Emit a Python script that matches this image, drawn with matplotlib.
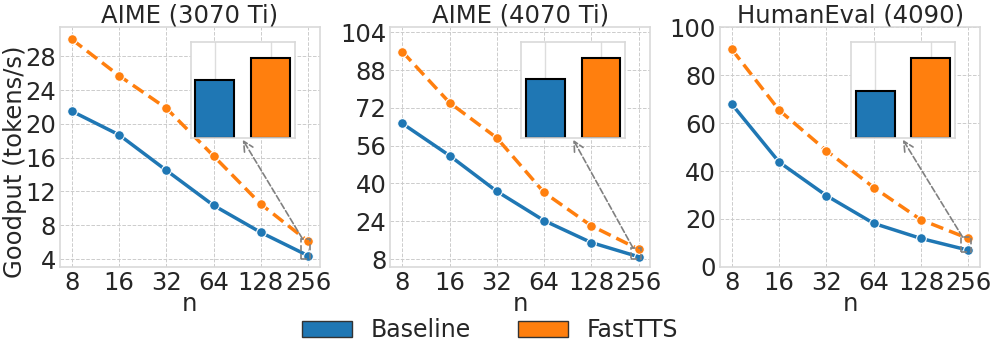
import matplotlib
matplotlib.use("Agg")
import matplotlib.pyplot as plt
from matplotlib.patches import Rectangle, Patch
import numpy as np

n_labels = ["8", "16", "32", "64", "128", "256"]
titles = ["AIME (3070 Ti)", "AIME (4070 Ti)", "HumanEval (4090)"]

baseline_3070 = [21.5, 18.7, 14.5, 10.35, 7.15, 4.4]
fasttts_3070 = [30.0, 25.7, 21.85, 16.2, 10.5, 6.1]
baseline_4070 = [65.4, 51.8, 36.7, 24.3, 15.0, 9.0]
fasttts_4070 = [95.8, 74.2, 59.3, 36.2, 22.1, 12.2]
baseline_4090 = [67.9, 43.7, 29.7, 18.1, 11.8, 6.9]
fasttts_4090 = [90.8, 65.4, 48.5, 33.1, 19.6, 11.8]

yticks = [list(range(4, 29, 4)), list(range(8, 105, 16)), list(range(0, 101, 20))]
ylims = [(3.1, 31.4), (4.8, 106), (0, 100)]

BLUE = "#1f77b4"
ORANGE = "#ff7f0e"
TXT = "#262626"
FS = 17.5

plt.rcParams["font.family"] = "DejaVu Sans"
plt.rcParams["font.size"] = FS
plt.rcParams["text.color"] = TXT
plt.rcParams["axes.labelcolor"] = TXT
plt.rcParams["xtick.color"] = TXT
plt.rcParams["ytick.color"] = TXT

fig = plt.figure(figsize=(9.96, 3.57), dpi=100)
lefts = [0.0602, 0.392, 0.723]
series = [(baseline_3070, fasttts_3070), (baseline_4070, fasttts_4070), (baseline_4090, fasttts_4090)]
x = np.arange(len(n_labels))

for i, (base, fast) in enumerate(series):
    ax = fig.add_axes([lefts[i], 0.253, 0.261, 0.670])
    ax.plot(x, base, color=BLUE, lw=2.5, marker="o", ms=7, mec="white", mew=0.8, zorder=3)
    ax.plot(x, fast, color=ORANGE, lw=2.5, ls="--", dashes=(3.7, 1.8), marker="o", ms=7,
            mec="white", mew=0.8, zorder=3)
    ax.set_xticks(x)
    ax.set_xticklabels(n_labels)
    ax.set_xlim(-0.25, 5.25)
    ax.set_yticks(yticks[i])
    ax.set_ylim(*ylims[i])
    ax.grid(True, ls="--", color="#cccccc", lw=0.7)
    ax.set_axisbelow(True)
    for s in ax.spines.values():
        s.set_color("#d9d9d9")
        s.set_linewidth(1.2)
    ax.tick_params(length=0, pad=3, labelsize=FS)
    ax.set_title(titles[i], fontsize=FS, pad=3)
    ax.set_xlabel("n", fontsize=FS, labelpad=-2)
    if i == 0:
        ax.set_ylabel("Goodput (tokens/s)", fontsize=FS)
        ax.yaxis.set_label_coords(-0.125, 0.44)

    # zoom rectangle around last points
    lo = min(base[-1], fast[-1]) * 0.9
    hi = max(base[-1], fast[-1]) * 1.05
    rect = Rectangle((4.84, lo), 0.21, hi - lo, fill=False, ec="gray", ls="--", lw=1.2, zorder=4)
    ax.add_patch(rect)

    ins = ax.inset_axes([0.503, 0.539, 0.40, 0.40])
    ins.bar([0, 1], [base[-1], fast[-1]], width=0.7, color=[BLUE, ORANGE], edgecolor="black", lw=1.5)
    ins.set_ylim(0, max(base[-1], fast[-1]) * 1.2)
    ins.set_xlim(-0.435, 1.435)
    ins.set_xticks([0, 1])
    ins.set_xticklabels([])
    ins.set_yticks([])
    ins.tick_params(length=0)
    ins.grid(True, axis="x", color="#dddddd", lw=1.0)
    ins.set_axisbelow(True)
    for s in ins.spines.values():
        s.set_color("#d9d9d9")
        s.set_linewidth(1.2)

    ax.annotate("", xy=(0.5, -0.02), xycoords=ins.transAxes,
                xytext=(4.88, hi), textcoords="data",
                arrowprops=dict(arrowstyle="->", color="gray", lw=1.2, ls="--", shrinkA=0, shrinkB=0),
                zorder=5)

handles = [Patch(facecolor=BLUE, edgecolor="#333333", lw=1), Patch(facecolor=ORANGE, edgecolor="#333333", lw=1)]
fig.legend(handles, ["Baseline", "FastTTS"], loc="center", bbox_to_anchor=(0.492, 0.075), ncol=2,
           frameon=False, fontsize=17, handlelength=2.1, handletextpad=0.8, columnspacing=2.0)

fig.savefig("out.png", dpi=100)
